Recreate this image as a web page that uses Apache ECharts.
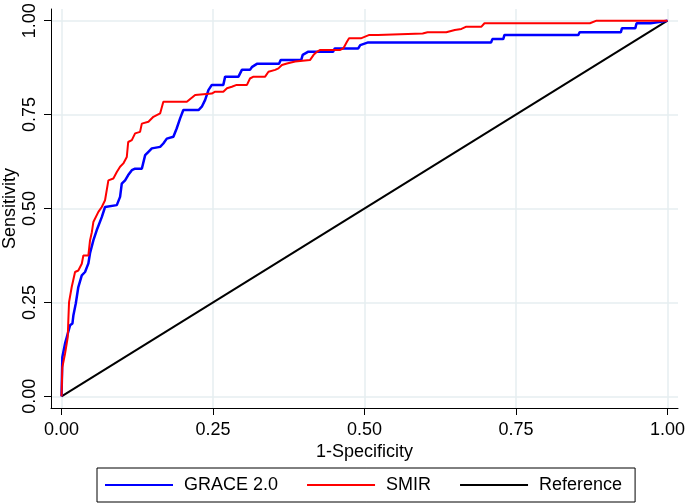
<!DOCTYPE html>
<html>
<head>
<meta charset="utf-8">
<title>ROC curves</title>
<script src="https://cdn.jsdelivr.net/npm/echarts@6.0.0/dist/echarts.min.js"></script>
<style>
  html, body { margin: 0; padding: 0; background: #fff; }
  #chart { width: 685px; height: 504px; }
</style>
</head>
<body>
<div id="chart"></div>
<script>
// tick values shared by both axes
const tickValues = [0, 0.25, 0.5, 0.75, 1];

// GRACE 2.0 ROC curve, [1-specificity, sensitivity]
const graceRoc = [
  [0, 0], [0.0013, 0.104], [0.0058, 0.141], [0.0086, 0.157], [0.014, 0.189],
  [0.018, 0.194], [0.0195, 0.215], [0.0235, 0.247], [0.0277, 0.291], [0.0334, 0.322],
  [0.0388, 0.331], [0.0443, 0.354], [0.047, 0.381], [0.0525, 0.415], [0.058, 0.442],
  [0.0664, 0.477], [0.0718, 0.504], [0.0912, 0.509], [0.0966, 0.531], [0.0994, 0.566],
  [0.1049, 0.575], [0.110, 0.589], [0.116, 0.602], [0.1214, 0.606], [0.1325, 0.606],
  [0.138, 0.642], [0.1434, 0.651], [0.149, 0.66], [0.1627, 0.664], [0.168, 0.673],
  [0.1737, 0.686], [0.1846, 0.691], [0.190, 0.713], [0.1957, 0.740], [0.201, 0.762],
  [0.226, 0.762], [0.2315, 0.771], [0.237, 0.789], [0.2424, 0.815], [0.248, 0.829],
  [0.267, 0.829], [0.270, 0.851], [0.292, 0.851], [0.2976, 0.869], [0.311, 0.869],
  [0.3146, 0.877], [0.3224, 0.885], [0.359, 0.885], [0.3617, 0.895], [0.3955, 0.895],
  [0.398, 0.909], [0.4066, 0.917], [0.448, 0.917], [0.451, 0.926], [0.4897, 0.926],
  [0.493, 0.935], [0.506, 0.942], [0.709, 0.942], [0.711, 0.951], [0.729, 0.951],
  [0.731, 0.962], [0.853, 0.962], [0.855, 0.969], [0.923, 0.969], [0.925, 0.98],
  [0.947, 0.98], [0.949, 0.993], [0.972, 0.993], [0.974, 0.997], [1, 1]
];

// SMIR ROC curve
const smirRoc = [
  [0, 0], [0.0013, 0.077], [0.0058, 0.114], [0.0102, 0.157], [0.0112, 0.202],
  [0.0124, 0.251], [0.0168, 0.291], [0.0223, 0.331], [0.0277, 0.335], [0.0334, 0.353],
  [0.036, 0.375], [0.0443, 0.375], [0.047, 0.415], [0.050, 0.437], [0.0525, 0.464],
  [0.0608, 0.491], [0.0664, 0.504], [0.0718, 0.522], [0.0773, 0.575], [0.0855, 0.58],
  [0.0912, 0.597], [0.0966, 0.611], [0.102, 0.62], [0.1077, 0.637], [0.110, 0.677],
  [0.116, 0.682], [0.1214, 0.70], [0.1296, 0.704], [0.1325, 0.726], [0.1434, 0.731],
  [0.1516, 0.744], [0.1627, 0.753], [0.168, 0.784], [0.2068, 0.784], [0.2205, 0.802],
  [0.248, 0.806], [0.2535, 0.811], [0.267, 0.811], [0.273, 0.82], [0.281, 0.824],
  [0.289, 0.829], [0.306, 0.829], [0.311, 0.846], [0.3168, 0.851], [0.336, 0.851],
  [0.3415, 0.864], [0.3526, 0.869], [0.358, 0.873], [0.3637, 0.882], [0.372, 0.886],
  [0.3856, 0.891], [0.388, 0.895], [0.410, 0.895], [0.416, 0.909], [0.4215, 0.917],
  [0.427, 0.922], [0.460, 0.922], [0.465, 0.926], [0.471, 0.944], [0.4745, 0.953],
  [0.494, 0.953], [0.508, 0.962], [0.522, 0.962], [0.524, 0.966], [0.596, 0.966],
  [0.604, 0.969], [0.635, 0.969], [0.649, 0.975], [0.660, 0.978], [0.668, 0.984],
  [0.693, 0.984], [0.698, 0.993], [0.872, 0.993], [0.883, 1.0], [1, 1]
];

// chance line
const referenceLine = [[0, 0], [1, 1]];

const fontFamily = "'Liberation Sans', Arial, Helvetica, sans-serif";

let chart = echarts.init(document.getElementById('chart'), null, { renderer: 'canvas' });

let axisCommon = {
    type: 'value',
    axisLine: { show: true, onZero: false, lineStyle: { color: '#000', width: 1 } },
    axisTick: { show: true, length: 7, customValues: tickValues, lineStyle: { color: '#000', width: 1 } },
    axisLabel: {
        customValues: tickValues,
        color: '#000',
        fontSize: 18,
        fontFamily: fontFamily,
        margin: 13,
        formatter: (v) => v.toFixed(2)
    },
    splitLine: { show: true, lineStyle: { color: '#e6eef1', width: 1.5 } },
    nameLocation: 'middle',
    nameMoveOverlap: false,
    nameTextStyle: { color: '#000', fontSize: 18, fontFamily: fontFamily }
};

let option = {
    backgroundColor: '#fff',
    animation: false,
    grid: { left: 51, right: 7, top: 9, bottom: 96, containLabel: false, outerBoundsMode: 'none' },
    xAxis: Object.assign({}, axisCommon, {
        min: -0.0174,
        max: 1.0174,
        name: '1-Specificity',
        nameGap: 35
    }),
    yAxis: Object.assign({}, axisCommon, {
        min: -0.031,
        max: 1.031,
        name: 'Sensitivity',
        nameGap: 32,
        axisLabel: Object.assign({}, axisCommon.axisLabel, { rotate: 90, margin: 12 })
    }),
    legend: {
        left: 97,
        top: 468,
        orient: 'horizontal',
        padding: [8, 13, 8, 8],
        itemGap: 29,
        itemWidth: 68,
        itemHeight: 2,
        icon: 'rect',
        borderColor: '#000',
        borderWidth: 1,
        borderRadius: 0,
        textStyle: { color: '#000', fontSize: 18, fontFamily: fontFamily, padding: [0, 0, 0, 6] },
        data: ['GRACE 2.0', 'SMIR', 'Reference']
    },
    series: [
        {
            name: 'GRACE 2.0',
            type: 'line',
            data: graceRoc,
            symbol: 'none',
            lineStyle: { color: '#0000ff', width: 2.5 },
            itemStyle: { color: '#0000ff' },
            z: 3
        },
        {
            name: 'SMIR',
            type: 'line',
            data: smirRoc,
            symbol: 'none',
            lineStyle: { color: '#ff0000', width: 2 },
            itemStyle: { color: '#ff0000' },
            z: 4
        },
        {
            name: 'Reference',
            type: 'line',
            data: referenceLine,
            symbol: 'none',
            lineStyle: { color: '#000', width: 2 },
            itemStyle: { color: '#000' },
            z: 2
        }
    ]
};

option && chart.setOption(option);
</script>
</body>
</html>
